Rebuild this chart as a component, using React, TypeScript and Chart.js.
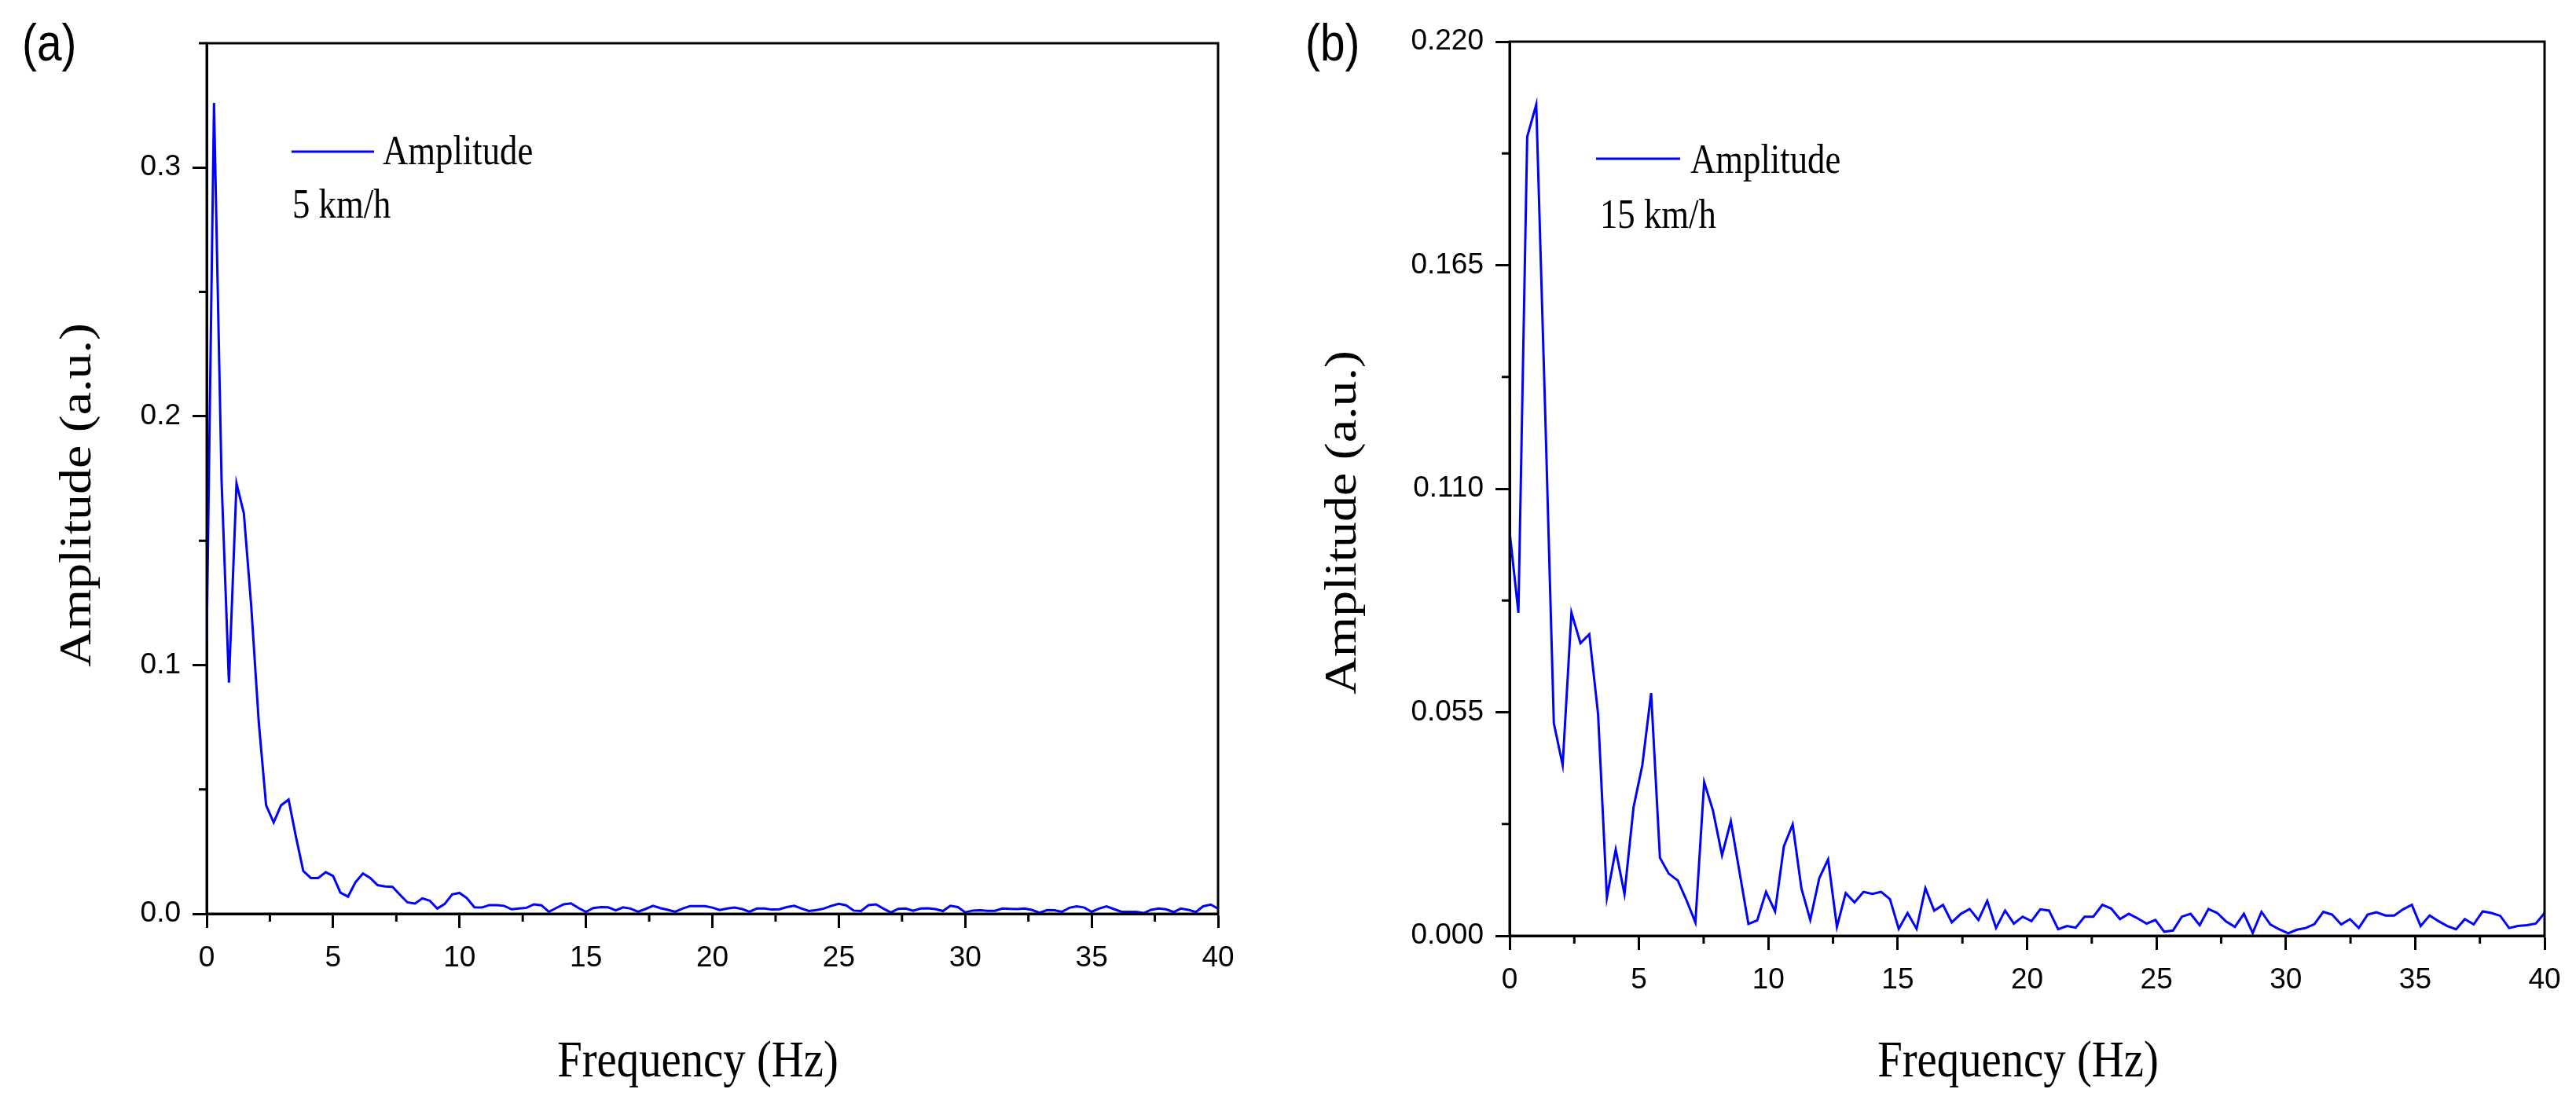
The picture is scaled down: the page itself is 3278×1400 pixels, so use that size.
import { useEffect, useRef } from "react";
import { Chart, registerables } from "chart.js";

Chart.register(...registerables);

// x ticks (Hz), shared by both panels
const xTicks = [0, 5, 10, 15, 20, 25, 30, 35, 40];
const xMinorTicks = [2.5, 7.5, 12.5, 17.5, 22.5, 27.5, 32.5, 37.5];

// panel (a): 5 km/h
const yTicksA = [0, 0.1, 0.2, 0.3];
const yMinorA = [0.05, 0.15, 0.25, 0.35];
const freqA = [
  0, 0.29, 0.59, 0.88, 1.18, 1.47, 1.76, 2.06, 2.35, 2.65, 2.94, 3.24, 3.53, 3.82, 4.12, 4.41, 4.71,
  5.0, 5.29, 5.59, 5.88, 6.18, 6.47, 6.76, 7.06, 7.35, 7.65, 7.94, 8.24, 8.53, 8.82, 9.12, 9.41, 9.71,
  10.0, 10.29, 10.59, 10.88, 11.18, 11.47, 11.76, 12.06, 12.35, 12.65, 12.94, 13.24, 13.53, 13.82, 14.12, 14.41, 14.71,
  15.0, 15.29, 15.59, 15.88, 16.18, 16.47, 16.76, 17.06, 17.35, 17.65, 17.94, 18.24, 18.53, 18.82, 19.12, 19.41, 19.71,
  20.0, 20.29, 20.59, 20.88, 21.18, 21.47, 21.76, 22.06, 22.35, 22.65, 22.94, 23.24, 23.53, 23.82, 24.12, 24.41, 24.71,
  25.0, 25.29, 25.59, 25.88, 26.18, 26.47, 26.76, 27.06, 27.35, 27.65, 27.94, 28.24, 28.53, 28.82, 29.12, 29.41, 29.71,
  30.0, 30.29, 30.59, 30.88, 31.18, 31.47, 31.76, 32.06, 32.35, 32.65, 32.94, 33.24, 33.53, 33.82, 34.12, 34.41, 34.71,
  35.0, 35.29, 35.59, 35.88, 36.18, 36.47, 36.76, 37.06, 37.35, 37.65, 37.94, 38.24, 38.53, 38.82, 39.12, 39.41, 39.71,
  40.0,
];
const ampA = [
  0.110, 0.326, 0.174, 0.093, 0.173, 0.161, 0.124, 0.077, 0.0436, 0.0367, 0.0436, 0.0459, 0.031, 0.0172, 0.0144, 0.0144, 0.0167,
  0.0152, 0.0085, 0.0069, 0.0126, 0.0162, 0.0144, 0.0115, 0.011, 0.0108, 0.0076, 0.0046, 0.0041, 0.0062, 0.0053, 0.0021, 0.0039, 0.0078,
  0.0084, 0.0063, 0.0026, 0.0025, 0.0035, 0.0035, 0.0032, 0.0018, 0.0021, 0.0024, 0.0038, 0.0034, 0.0008, 0.0023, 0.0038, 0.0042, 0.0023,
  0.0008, 0.0023, 0.0027, 0.0026, 0.0014, 0.0026, 0.0021, 0.0008, 0.0019, 0.0032, 0.0023, 0.0016, 0.0008, 0.0021, 0.0031, 0.0031, 0.0031,
  0.0025, 0.0015, 0.0021, 0.0025, 0.0019, 0.0008, 0.0021, 0.0021, 0.0017, 0.0018, 0.0027, 0.0032, 0.0021, 0.0011, 0.0015, 0.0021, 0.0032,
  0.004, 0.0034, 0.0013, 0.0011, 0.0035, 0.0038, 0.0021, 0.0005, 0.002, 0.0021, 0.0012, 0.0021, 0.0022, 0.0019, 0.0011, 0.0032, 0.0027,
  0.0006, 0.0013, 0.0014, 0.0012, 0.0012, 0.0021, 0.002, 0.0019, 0.0021, 0.0015, 0.0004, 0.0015, 0.0014, 0.0008, 0.0024, 0.003, 0.0025,
  0.0008, 0.0021, 0.003, 0.0019, 0.0008, 0.0008, 0.0008, 0.0003, 0.0016, 0.0021, 0.0018, 0.0007, 0.0021, 0.0016, 0.0007, 0.003, 0.0037,
  0.0021,
];

// panel (b): 15 km/h
const yTicksB = [0, 0.055, 0.11, 0.165, 0.22];
const yMinorB = [0.0275, 0.0825, 0.1375, 0.1925];
const freqB = [
  0, 0.34, 0.68, 1.03, 1.37, 1.71, 2.05, 2.39, 2.74, 3.08, 3.42, 3.76, 4.1, 4.44, 4.79, 5.13, 5.47, 5.81, 6.15, 6.5,
  6.84, 7.18, 7.52, 7.86, 8.21, 8.55, 8.89, 9.23, 9.57, 9.91, 10.26, 10.6, 10.94, 11.28, 11.62, 11.97, 12.31, 12.65, 12.99, 13.33,
  13.68, 14.02, 14.36, 14.7, 15.04, 15.38, 15.73, 16.07, 16.41, 16.75, 17.09, 17.44, 17.78, 18.12, 18.46, 18.8, 19.15, 19.49, 19.83, 20.17,
  20.51, 20.85, 21.2, 21.54, 21.88, 22.22, 22.56, 22.91, 23.25, 23.59, 23.93, 24.27, 24.62, 24.96, 25.3, 25.64, 25.98, 26.32, 26.67, 27.01,
  27.35, 27.69, 28.03, 28.38, 28.72, 29.06, 29.4, 29.74, 30.09, 30.43, 30.77, 31.11, 31.45, 31.79, 32.14, 32.48, 32.82, 33.16, 33.5, 33.85,
  34.19, 34.53, 34.87, 35.21, 35.56, 35.9, 36.24, 36.58, 36.92, 37.26, 37.61, 37.95, 38.29, 38.63, 38.97, 39.32, 39.66, 40.0,
];
const ampB = [
  0.0995, 0.0795, 0.1966, 0.2045, 0.13, 0.0523, 0.042, 0.0795, 0.072, 0.0742, 0.0545, 0.0094, 0.0212, 0.0103, 0.0316, 0.042, 0.0597, 0.0192, 0.0153, 0.0136,
  0.0087, 0.0033, 0.0378, 0.0308, 0.0198, 0.0282, 0.0155, 0.0029, 0.0038, 0.0108, 0.006, 0.022, 0.0274, 0.0116, 0.0039, 0.0142, 0.0188, 0.0022, 0.0105, 0.0082,
  0.0108, 0.0103, 0.0108, 0.009, 0.0017, 0.0056, 0.0017, 0.0117, 0.0062, 0.0076, 0.0033, 0.0054, 0.0066, 0.0039, 0.0086, 0.0019, 0.0062, 0.003, 0.0047, 0.0036,
  0.0065, 0.0062, 0.0016, 0.0024, 0.002, 0.0047, 0.0047, 0.0076, 0.0067, 0.0041, 0.0054, 0.0043, 0.003, 0.0039, 0.001, 0.0013, 0.0047, 0.0054, 0.0026, 0.0066,
  0.0056, 0.0035, 0.0022, 0.0054, 0.0007, 0.0059, 0.0028, 0.0016, 0.0006, 0.0015, 0.0019, 0.0029, 0.0059, 0.0052, 0.0028, 0.0041, 0.0019, 0.0052, 0.0058, 0.005,
  0.005, 0.0065, 0.0076, 0.0024, 0.005, 0.0036, 0.0024, 0.0016, 0.0041, 0.0028, 0.006, 0.0056, 0.0049, 0.0019, 0.0024, 0.0026, 0.003, 0.0056,
];

const SERIF = "'Liberation Serif', 'Times New Roman', serif";
const SANS = "'Liberation Sans', Arial, sans-serif";
const SQUEEZE = 0.86; // the source figure is a little narrower than its fonts

interface Panel {
  letter: string;
  speed: string;
  freq: number[];
  amp: number[];
  yMax: number;
  yTicks: number[];
  yMinor: number[];
  digits: number;
  padding: { left: number; top: number; right: number; bottom: number };
  yAxisW: number;
  xAxisH: number;
  width: number;
  left: number;
  // text placement, canvas px
  letterX: number;
  legendX: [number, number];
  legendY: number;
  legendTextX: number;
  legendTextY: number;
  speedX: number;
  speedY: number;
  xTitleX: number;
  yTitleX: number;
  yTitleY: number;
}

const panels: Panel[] = [
  {
    letter: "(a)", speed: "5 km/h", freq: freqA, amp: ampA, yMax: 0.35, yTicks: yTicksA, yMinor: yMinorA, digits: 1,
    padding: { left: 0, top: 55, right: 90, bottom: 0 }, yAxisW: 263, xAxisH: 237, width: 1640, left: 0,
    letterX: 28, legendX: [371, 476], legendY: 193, legendTextX: 487, legendTextY: 209, speedX: 372, speedY: 277,
    xTitleX: 888, yTitleX: 115, yTitleY: 630,
  },
  {
    letter: "(b)", speed: "15 km/h", freq: freqB, amp: ampB, yMax: 0.22, yTicks: yTicksB, yMinor: yMinorB, digits: 3,
    padding: { left: 0, top: 53, right: 40, bottom: 0 }, yAxisW: 281, xAxisH: 209, width: 1638, left: 1640,
    letterX: 21, legendX: [391, 498], legendY: 202, legendTextX: 511, legendTextY: 220, speedX: 396, speedY: 290,
    xTitleX: 928, yTitleX: 85, yTitleY: 665,
  },
];

function squeezedText(ctx: CanvasRenderingContext2D, s: string, x: number, y: number, font: string, align: CanvasTextAlign = "left") {
  ctx.save();
  ctx.translate(x, y);
  ctx.scale(SQUEEZE, 1);
  ctx.font = font;
  ctx.textAlign = align;
  ctx.textBaseline = "alphabetic";
  ctx.fillStyle = "#000";
  ctx.fillText(s, 0, 0);
  ctx.restore();
}

function decorPlugin(p: Panel) {
  return {
    id: "decor",
    afterDraw(chart: Chart) {
      const { ctx, chartArea: a } = chart;
      const x = chart.scales.x;
      const y = chart.scales.y;
      ctx.save();
      ctx.strokeStyle = "#000";
      ctx.lineWidth = 3;
      // frame top + right
      ctx.strokeRect(a.left, a.top, a.right - a.left, a.bottom - a.top);
      // minor ticks, outward
      ctx.beginPath();
      xMinorTicks.forEach((v) => {
        const px = x.getPixelForValue(v);
        ctx.moveTo(px, a.bottom);
        ctx.lineTo(px, a.bottom + 10);
      });
      p.yMinor.forEach((v) => {
        const py = y.getPixelForValue(v);
        ctx.moveTo(a.left, py);
        ctx.lineTo(a.left - 10, py);
      });
      ctx.stroke();
      // legend
      ctx.strokeStyle = "#0000FF";
      ctx.beginPath();
      ctx.moveTo(p.legendX[0], p.legendY);
      ctx.lineTo(p.legendX[1], p.legendY);
      ctx.stroke();
      ctx.restore();

      squeezedText(ctx, "Amplitude", p.legendTextX, p.legendTextY, `52px ${SERIF}`);
      squeezedText(ctx, p.speed, p.speedX, p.speedY, `52px ${SERIF}`);
      squeezedText(ctx, p.letter, p.letterX / 1, 77, `66px ${SANS}`);
      squeezedText(ctx, "Frequency (Hz)", p.xTitleX, 1370, `66px ${SERIF}`, "center");

      // rotated y title
      ctx.save();
      ctx.translate(p.yTitleX, p.yTitleY);
      ctx.rotate(-Math.PI / 2);
      ctx.scale(1, SQUEEZE);
      ctx.font = `66px ${SERIF}`;
      ctx.textAlign = "center";
      ctx.textBaseline = "alphabetic";
      ctx.fillStyle = "#000";
      ctx.fillText("Amplitude (a.u.)", 0, 0);
      ctx.restore();
    },
  };
}

function SpectrumPanel({ p }: { p: Panel }) {
  const ref = useRef<HTMLCanvasElement>(null);

  useEffect(() => {
    if (!ref.current) return;
    const chart = new Chart(ref.current, {
      type: "line",
      data: {
        datasets: [
          {
            label: "Amplitude",
            data: p.freq.map((f, i) => ({ x: f, y: p.amp[i] })),
            borderColor: "#0000FF",
            borderWidth: 3,
            pointRadius: 0,
            tension: 0,
            fill: false,
          },
        ],
      },
      options: {
        responsive: true,
        maintainAspectRatio: false,
        animation: false,
        events: [],
        layout: { padding: p.padding },
        plugins: { legend: { display: false }, tooltip: { enabled: false } },
        scales: {
          x: {
            type: "linear",
            min: 0,
            max: 40,
            afterFit: (s: any) => { s.height = p.xAxisH; },
            afterBuildTicks: (s: any) => { s.ticks = xTicks.map((value) => ({ value })); },
            grid: { display: true, drawOnChartArea: false, drawTicks: true, tickLength: 18, tickWidth: 3, tickColor: "#000" },
            border: { display: true, width: 3, color: "#000" },
            ticks: {
              color: "#000",
              font: { family: SANS, size: 37 },
              padding: 17,
              maxRotation: 0,
              autoSkip: false,
              callback: (v: any) => String(v),
            },
          },
          y: {
            type: "linear",
            min: 0,
            max: p.yMax,
            afterFit: (s: any) => { s.width = p.yAxisW; },
            afterBuildTicks: (s: any) => { s.ticks = p.yTicks.map((value) => ({ value })); },
            grid: { display: true, drawOnChartArea: false, drawTicks: true, tickLength: 18, tickWidth: 3, tickColor: "#000" },
            border: { display: true, width: 3, color: "#000" },
            ticks: {
              color: "#000",
              font: { family: SANS, size: 37 },
              padding: 15,
              autoSkip: false,
              callback: (v: any) => Number(v).toFixed(p.digits),
            },
          },
        },
      },
      plugins: [decorPlugin(p)],
    });
    return () => chart.destroy();
  }, [p]);

  return (
    <div style={{ position: "absolute", left: p.left, top: 0, width: p.width, height: 1400 }}>
      <canvas ref={ref} role="img" aria-label={`Amplitude spectrum at ${p.speed}`} />
    </div>
  );
}

export default function App() {
  useEffect(() => {
    document.body.style.margin = "0";
  }, []);
  return (
    <div style={{ position: "relative", width: 3278, height: 1400, background: "#fff", overflow: "hidden" }}>
      {panels.map((p) => (
        <SpectrumPanel key={p.letter} p={p} />
      ))}
    </div>
  );
}
